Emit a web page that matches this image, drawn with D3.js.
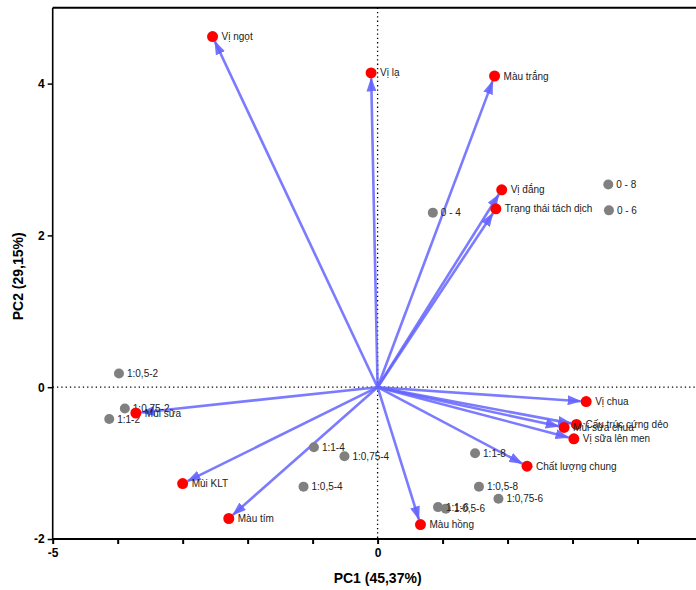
<!DOCTYPE html>
<html>
<head>
<meta charset="utf-8">
<script src="https://cdn.jsdelivr.net/npm/d3@7"></script>
<style>
  html, body { margin: 0; padding: 0; background: #fff; }
  svg { display: block; font-family: Arial, "Liberation Sans", sans-serif; }
</style>
</head>
<body>
<svg id="chart" width="696" height="590"></svg>
<script>
// Variables (loadings) – red points with arrows
const varNames = ["Vị ngọt", "Vị lạ", "Màu trắng", "Vị đắng", "Trạng thái tách dịch",
  "Vị chua", "Cấu trúc cứng dẻo", "Mùi sữa chua", "Vị sữa lên men", "Chất lượng chung",
  "Màu hồng", "Màu tím", "Mùi KLT", "Mùi sữa"];
const varPC1 = [-2.54, -0.10, 1.80, 1.91, 1.82, 3.21, 3.06, 2.87, 3.02, 2.30, 0.66, -2.29, -3.00, -3.72];
const varPC2 = [4.62, 4.14, 4.10, 2.60, 2.35, -0.19, -0.49, -0.53, -0.68, -1.04, -1.81, -1.73, -1.27, -0.34];

// Observations (scores) – grey points
const obsNames = ["0 - 8", "0 - 6", "0 - 4", "1:0,5-2", "1:0,75-2", "1:1-2", "1:1-4", "1:0,75-4",
  "1:0,5-4", "1:1-8", "1:0,5-8", "1:0,75-6", "1:1-6", "1:0,5-6"];
const obsPC1 = [3.55, 3.56, 0.85, -3.98, -3.89, -4.13, -0.98, -0.51, -1.14, 1.50, 1.56, 1.86, 0.93, 1.05];
const obsPC2 = [2.67, 2.33, 2.30, 0.18, -0.28, -0.42, -0.79, -0.91, -1.31, -0.87, -1.31, -1.47, -1.58, -1.60];

const xTicks = [-5, -4, -3, -2, -1, 0, 1, 2, 3, 4];
const xTickLabels = ["-5", "", "", "", "", "0", "", "", "", ""];
const yTicks = [-2, 0, 2, 4];
const yTickLabels = ["-2", "0", "2", "4"];
const xTitle = "PC1 (45,37%)";
const yTitle = "PC2 (29,15%)";

const svg = d3.select("#chart");
const x = d3.scaleLinear().domain([-5, 4.9]).range([52.7, 696]);
const y = d3.scaleLinear().domain([-2, 5]).range([539, 7.7]);

// top frame line
svg.append("line")
  .attr("x1", x(-5)).attr("x2", 696)
  .attr("y1", y(5)).attr("y2", y(5))
  .attr("stroke", "#000").attr("stroke-width", 2);

// dotted zero lines
svg.append("line")
  .attr("x1", x(0)).attr("x2", x(0))
  .attr("y1", y(5)).attr("y2", y(-2))
  .attr("stroke", "#000").attr("stroke-width", 1.3)
  .attr("stroke-dasharray", "1.3,3");
svg.append("line")
  .attr("x1", x(-5)).attr("x2", 696)
  .attr("y1", y(0)).attr("y2", y(0))
  .attr("stroke", "#000").attr("stroke-width", 1.3)
  .attr("stroke-dasharray", "1.3,3");

// arrowhead marker
const defs = svg.append("defs");
defs.append("marker")
  .attr("id", "arrow")
  .attr("markerUnits", "userSpaceOnUse")
  .attr("viewBox", "0 0 14 10")
  .attr("refX", 13).attr("refY", 5)
  .attr("markerWidth", 14).attr("markerHeight", 10)
  .attr("orient", "auto")
  .append("path")
  .attr("d", "M0,0 L14,5 L0,10 Z")
  .attr("fill", "rgb(100,100,255)").attr("fill-opacity", 0.9);

// arrows
const vars = varNames.map((n, i) => ({ name: n, px: varPC1[i], py: varPC2[i] }));
const obs = obsNames.map((n, i) => ({ name: n, px: obsPC1[i], py: obsPC2[i] }));

svg.append("g").selectAll("line").data(vars).join("line")
  .each(function (d) {
    const x0 = x(0), y0 = y(0), x1 = x(d.px), y1 = y(d.py);
    const dx = x1 - x0, dy = y1 - y0, L = Math.hypot(dx, dy);
    const k = (L - 5.5) / L;
    d3.select(this)
      .attr("x1", x0).attr("y1", y0)
      .attr("x2", x0 + dx * k).attr("y2", y0 + dy * k);
  })
  .attr("stroke", "rgb(100,100,255)").attr("stroke-opacity", 0.85)
  .attr("stroke-width", 2.6)
  .attr("marker-end", "url(#arrow)");

// observation points
svg.append("g").selectAll("circle").data(obs).join("circle")
  .attr("cx", d => x(d.px)).attr("cy", d => y(d.py)).attr("r", 5)
  .attr("fill", "#808080");
svg.append("g").selectAll("text").data(obs).join("text")
  .attr("x", d => x(d.px) + 8).attr("y", d => y(d.py))
  .attr("dy", "0.35em")
  .attr("font-size", 10).attr("fill", "#222")
  .text(d => d.name);

// variable points
svg.append("g").selectAll("circle").data(vars).join("circle")
  .attr("cx", d => x(d.px)).attr("cy", d => y(d.py)).attr("r", 5.5)
  .attr("fill", "#ff0000");
svg.append("g").selectAll("text").data(vars).join("text")
  .attr("x", d => x(d.px) + 9).attr("y", d => y(d.py))
  .attr("dy", "0.35em")
  .attr("font-size", 10).attr("fill", "#222")
  .text(d => d.name);

// axes
const xAxis = svg.append("g")
  .attr("transform", `translate(0,${y(-2)})`)
  .call(d3.axisBottom(x).tickValues(xTicks)
    .tickFormat((d, i) => xTickLabels[i]).tickSizeOuter(0).tickSize(5).tickPadding(4));
xAxis.select(".domain").attr("d", `M${x(-5)},0H696`).attr("stroke-width", 2.2).attr("stroke", "#000");
xAxis.selectAll(".tick line").attr("stroke-width", 2).attr("stroke", "#000");
xAxis.selectAll(".tick text").attr("font-size", 12).attr("font-weight", "bold")
  .attr("fill", "#000").attr("font-family", "Arial, 'Liberation Sans', sans-serif");

const yAxis = svg.append("g")
  .attr("transform", `translate(${x(-5)},0)`)
  .call(d3.axisLeft(y).tickValues(yTicks)
    .tickFormat((d, i) => yTickLabels[i]).tickSizeOuter(0).tickSize(5).tickPadding(3));
yAxis.select(".domain").attr("d", `M0,${y(5)}V${y(-2)}`).attr("stroke-width", 1.6).attr("stroke", "#000");
yAxis.selectAll(".tick line").attr("stroke-width", 1.5).attr("stroke", "#000");
yAxis.selectAll(".tick text").attr("font-size", 12).attr("font-weight", "bold")
  .attr("fill", "#000").attr("font-family", "Arial, 'Liberation Sans', sans-serif");

// axis titles
svg.append("text")
  .attr("x", x(0)).attr("y", 583)
  .attr("text-anchor", "middle")
  .attr("font-size", 14).attr("font-weight", "bold").attr("fill", "#000")
  .text(xTitle);
svg.append("text")
  .attr("transform", `translate(23,${(y(5) + y(-2)) / 2 + 3}) rotate(-90)`)
  .attr("text-anchor", "middle")
  .attr("font-size", 14).attr("font-weight", "bold").attr("fill", "#000")
  .text(yTitle);
</script>
</body>
</html>
